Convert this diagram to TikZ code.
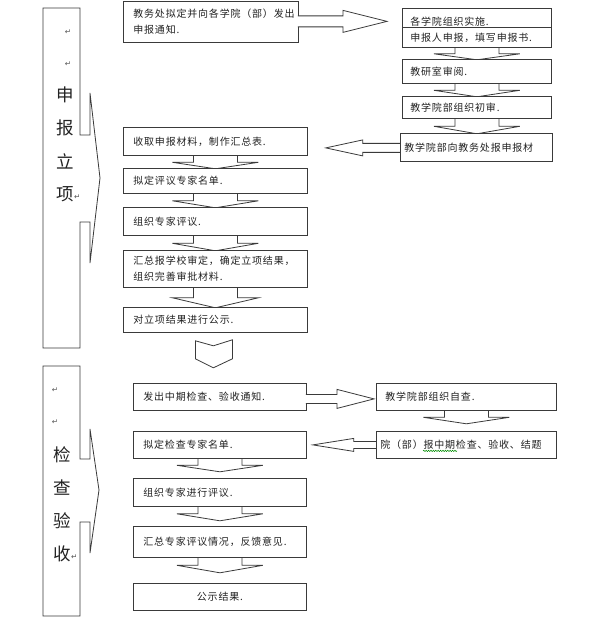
\documentclass[tikz,border=0pt]{standalone}
\usepackage{fontspec}
\newfontfamily\cjk[LetterSpace=8]{Noto Sans CJK SC}
\newfontfamily\symfont{DejaVu Sans}
\usetikzlibrary{calc,backgrounds,decorations.pathmorphing}
\definecolor{ink}{HTML}{222222}
\definecolor{edge}{HTML}{3A3A3A}
\definecolor{pmk}{HTML}{555555}
% flat block arrow pointing down from one box to the next
\newcommand\vblk[3]{%
  \coordinate (vt) at ($(#1.south)!#3!(#1.south|-#2.north)$);
  \coordinate (vn) at ($(#1.south)!0.5!(vt)$);
  \filldraw[blk] ($(#1.south)+(-22,-4)$) -- ($(vn)+(-22,0)$) -- ($(vn)+(-43,0)$) -- (vt)
    -- ($(vn)+(43,0)$) -- ($(vn)+(22,0)$) -- ($(#1.south)+(22,-4)$);}
% sideways block arrow: start, tip, head base, shaft half, head half
\newcommand\hblk[5]{%
  \filldraw[blk] ($(#1)+(0,-#4)$) -- ($(#3)+(0,-#4)$) -- ($(#3)+(0,-#5)$) -- (#2)
    -- ($(#3)+(0,#5)$) -- ($(#3)+(0,#4)$) -- ($(#1)+(0,#4)$);}
\begin{document}
\begin{tikzpicture}[x=1pt, y=-1pt,
  box/.style={draw=edge, fill=white, line width=0.8pt, anchor=north west, align=left,
    inner ysep=0pt, inner xsep=10pt, font=\cjk\fontsize{10}{16}\selectfont, text=ink},
  boxl/.style={box, text width=164pt},
  boxr/.style={box, inner xsep=8pt, text width=133pt},
  boxb/.style={box, text width=153pt},
  boxc/.style={box, inner xsep=9pt, text width=162pt},
  blk/.style={draw=edge, fill=white, line width=0.8pt},
  panel/.style={draw=edge, fill=white, line width=0.8pt},
  bigch/.style={font=\cjk\fontsize{17.5}{17.5}\selectfont, text=ink, inner sep=0pt},
  pmark/.style={font=\symfont\fontsize{7.5}{7.5}\selectfont, text=pmk, inner sep=0pt},
]
\useasboundingbox (0,0) rectangle (591,644);

% phase panels
\draw[panel] (43,8) -- (80,8) -- (80,135) -- (90,135) -- (90,93) -- (100,178) -- (90,263)
  -- (90,222) -- (80,222) -- (80,348) -- (43,348) -- cycle;
\draw[panel] (43,366) -- (80,366) -- (80,459) -- (90,459) -- (90,429) -- (99,490) -- (90,553)
  -- (90,522) -- (80,522) -- (80,616) -- (43,616) -- cycle;
\node[pmark] (sbm1) at (68,32) {↵};
\node[pmark] (sbm2) at (68,64) {↵};
\foreach \ch [count=\i] in {申,报,立,项}
  \node[bigch] (sb\i) at (65, 62+\i*33) {\ch};
\node[pmark, anchor=west] (sbm3) at ($(sb4.east)+(0,3)$) {↵};
\node[pmark] (jcm1) at (55,390) {↵};
\node[pmark] (jcm2) at (55,422) {↵};
\foreach \ch [count=\i] in {检,查,验,收}
  \node[bigch] (jc\i) at (62, 422+\i*33) {\ch};
\node[pmark, anchor=west] (jcm3) at ($(jc4.east)+(0,3)$) {↵};

% phase 1
\node[box, text width=155pt, minimum height=41pt] (A) at (123,1) {教务处拟定并向各学院（部）发出\\申报通知.};
\node[boxl, minimum height=28pt] (B) at (123,127) {收取申报材料，制作汇总表.};
\node[boxl, minimum height=25pt] (C) at (123,168) {拟定评议专家名单.};
\node[boxl, minimum height=28pt] (D) at (123,207) {组织专家评议.};
\node[boxl, minimum height=37pt] (E) at (123,250) {汇总报学校审定，确定立项结果，\\组织完善审批材料.};
\node[boxl, minimum height=25pt] (F) at (123,307) {对立项结果进行公示.};
\node[boxr, minimum height=27pt] (G) at (402,8) {各学院组织实施.};
\node[boxr, minimum height=20pt] (H) at (402,27) {申报人申报，填写申报书.};
\node[boxr, minimum height=24pt] (I) at (402,59) {教研室审阅.};
\node[boxr, minimum height=22pt] (J) at (402,96) {教学院部组织初审.};
\node[box, inner xsep=4pt, text width=144pt, minimum height=28pt] (K) at (400,133) {教学院部向教务处报申报材};

% phase 2
\node[boxb, minimum height=27pt] (L) at (133,383) {发出中期检查、验收通知.};
\node[boxc, minimum height=27pt] (M) at (376,383) {教学院部组织自查.};
\node[box, inner xsep=4pt, text width=172pt, minimum height=27pt] (N) at (376,431) {院（部）报中期检查、验收、结题};
\node[boxb, minimum height=27pt] (O) at (133,431) {拟定检查专家名单.};
\node[boxb, minimum height=28pt] (P) at (133,478) {组织专家进行评议.};
\node[boxb, minimum height=31pt] (Q) at (133,526) {汇总专家评议情况，反馈意见.};
\node[boxb, minimum height=27pt, align=center] (R) at (133,583) {公示结果.};
\draw[green!55!black, line width=0.5pt, decorate,
  decoration={snake, amplitude=0.7pt, segment length=2.4pt}]
  ($(N.west)+(47,6)$) -- ($(N.west)+(81,6)$);

% arrows behind the boxes
\begin{scope}[on background layer]
\foreach \a/\b/\l in {B/C/13pt, C/D/14pt, D/E/15pt, E/F/20pt, H/I/12pt, I/J/13pt,
  J/K/15pt, M/N/13pt, O/P/13pt, P/Q/14pt, Q/R/15pt}
  \vblk{\a}{\b}{\l};
\coordinate (kb0) at ($(K.west)+(3,0.5)$);
\coordinate (kb2) at ($(B.east|-kb0)+(18,0)$);
\coordinate (kb1) at ($(kb2)+(37,0)$);
\hblk{kb0}{kb2}{kb1}{4.5}{8}
\coordinate (no0) at ($(N.west)+(3,0)$);
\coordinate (no2) at ($(O.east|-no0)+(6,0)$);
\coordinate (no1) at ($(no2)+(41,0)$);
\hblk{no0}{no2}{no1}{3.5}{6.5}
\end{scope}

% arrows laid over the box edge
\coordinate (ag0) at ($(A.east)+(-1,-0.5)$);
\coordinate (ag2) at ($(G.west|-ag0)+(-15,0)$);
\coordinate (ag1) at ($(ag2)+(-44,0)$);
\hblk{ag0}{ag2}{ag1}{5.5}{11}
\coordinate (lm0) at ($(L.east)+(-1,2)$);
\coordinate (lm2) at ($(M.west|-lm0)+(-2,0)$);
\coordinate (lm1) at ($(lm2)+(-37,0)$);
\hblk{lm0}{lm2}{lm1}{4.5}{9.5}

% step between the two phases
\draw[blk] ($(F.south)+(-20,8)$) -- ($(F.south)+(-2,13)$) -- ($(F.south)+(17,7)$)
  -- ($(F.south)+(17,26)$) -- ($(F.south)+(-2,35)$) -- ($(F.south)+(-20,26)$) -- cycle;
\end{tikzpicture}
\end{document}
